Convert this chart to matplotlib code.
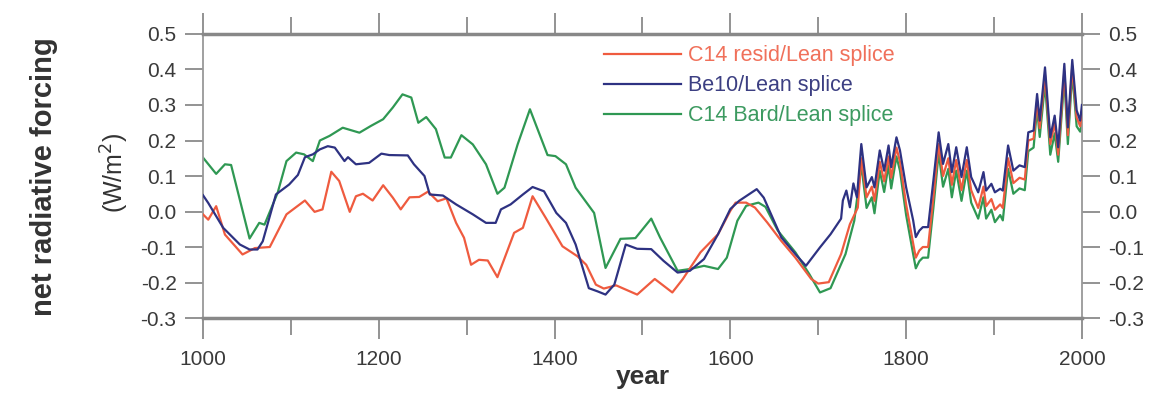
import matplotlib
matplotlib.use("Agg")
import matplotlib.pyplot as plt
from matplotlib.ticker import MultipleLocator, FormatStrFormatter

plt.rcParams['font.family'] = ['Liberation Sans', 'DejaVu Sans']

# ---- data ----
red_years = [1000, 1006, 1015, 1025, 1045, 1059, 1076, 1095, 1116, 1127, 1136, 1146, 1155, 1167,
             1174, 1182, 1193, 1205, 1216, 1225, 1235, 1246, 1256, 1267, 1277, 1288, 1297, 1305,
             1314, 1324, 1335, 1354, 1364, 1375, 1390, 1409, 1426, 1436, 1447, 1456, 1470, 1494,
             1514, 1534, 1546, 1566, 1586, 1600, 1606, 1618, 1628, 1642, 1658, 1674, 1692, 1700,
             1712, 1726, 1736, 1745,
             1749, 1755, 1761, 1764, 1770, 1775, 1780, 1783, 1789, 1793, 1800, 1808, 1811, 1815,
             1819, 1825, 1831, 1837, 1842, 1848, 1852, 1857, 1863, 1869, 1874, 1882, 1888, 1891,
             1897, 1901, 1907, 1910, 1916, 1922, 1929, 1935, 1939, 1945, 1949, 1952, 1958, 1964,
             1969, 1973, 1980, 1984, 1989, 1994, 1998, 2000]
red_vals = [-0.008, -0.023, 0.015, -0.065, -0.121, -0.103, -0.1, -0.008, 0.031, -0.001, 0.006, 0.112,
            0.086, -0.001, 0.043, 0.05, 0.031, 0.074, 0.039, 0.006, 0.04, 0.041, 0.056, 0.029, 0.037,
            -0.032, -0.074, -0.15, -0.136, -0.138, -0.185, -0.06, -0.046, 0.043, -0.018, -0.098,
            -0.126, -0.15, -0.206, -0.217, -0.208, -0.234, -0.19, -0.228, -0.19, -0.115, -0.064,
            0.002, 0.025, 0.025, 0.011, -0.031, -0.083, -0.13, -0.19, -0.203, -0.199, -0.12, -0.036,
            0.011,
            0.15, 0.04, 0.07, 0.03, 0.14, 0.085, 0.155, 0.095, 0.18, 0.14, 0.02, -0.09, -0.13, -0.11,
            -0.1, -0.1, 0.04, 0.19, 0.1, 0.15, 0.075, 0.145, 0.06, 0.145, 0.06, 0.01, 0.07, 0.015,
            0.035, 0.005, 0.02, 0.01, 0.15, 0.08, 0.095, 0.09, 0.2, 0.205, 0.31, 0.235, 0.385, 0.19,
            0.25, 0.16, 0.395, 0.215, 0.41, 0.265, 0.24, 0.28]

blue_years = [1000, 1006, 1023, 1042, 1053, 1062, 1068, 1083, 1098, 1108, 1116, 1125, 1133, 1142,
              1150, 1161, 1165, 1174, 1189, 1203, 1212, 1233, 1240, 1252, 1258, 1273, 1288, 1307,
              1322, 1333, 1339, 1350, 1364, 1375, 1388, 1402, 1413, 1424, 1439, 1449, 1458, 1468,
              1481, 1494, 1510, 1524, 1540, 1554, 1570, 1586, 1600, 1610, 1630, 1638, 1658, 1674,
              1686, 1702, 1714, 1726,
              1728, 1732, 1736, 1740, 1744, 1749, 1755, 1761, 1764, 1770, 1775, 1780, 1783, 1789,
              1793, 1800, 1808, 1811, 1815, 1819, 1825, 1831, 1837, 1842, 1848, 1852, 1857, 1863,
              1869, 1874, 1882, 1888, 1891, 1897, 1901, 1907, 1910, 1916, 1922, 1929, 1935, 1939,
              1945, 1949, 1952, 1958, 1964, 1969, 1973, 1980, 1984, 1989, 1994, 1998, 2000]
blue_vals = [0.046, 0.024, -0.046, -0.093, -0.107, -0.107, -0.084, 0.048, 0.076, 0.103, 0.153, 0.161,
             0.175, 0.184, 0.18, 0.142, 0.153, 0.133, 0.137, 0.163, 0.159, 0.158, 0.133, 0.1, 0.048,
             0.045, 0.02, -0.008, -0.032, -0.032, 0.006, 0.02, 0.048, 0.069, 0.057, -0.004, -0.032,
             -0.093, -0.216, -0.225, -0.234, -0.206, -0.093, -0.105, -0.106, -0.139, -0.172, -0.167,
             -0.134, -0.064, 0.007, 0.03, 0.063, 0.039, -0.073, -0.12, -0.153, -0.101, -0.064, -0.02,
             0.031, 0.059, 0.012, 0.079, 0.04, 0.19, 0.068, 0.097, 0.068, 0.172, 0.115, 0.186, 0.125,
             0.209, 0.172, 0.068, -0.025, -0.072, -0.054, -0.044, -0.044, 0.087, 0.223, 0.134, 0.19,
             0.111, 0.181, 0.097, 0.181, 0.097, 0.054, 0.111, 0.059, 0.078, 0.054, 0.064, 0.059,
             0.186, 0.115, 0.13, 0.125, 0.223, 0.228, 0.331, 0.256, 0.406, 0.209, 0.27, 0.181, 0.416,
             0.237, 0.427, 0.285, 0.256, 0.3]

green_years = [1000, 1015, 1025, 1032, 1053, 1064, 1070, 1085, 1095, 1106, 1115, 1125, 1133, 1144,
               1159, 1178, 1191, 1205, 1216, 1227, 1237, 1245, 1254, 1265, 1275, 1282, 1294, 1307,
               1322, 1335, 1343, 1358, 1372, 1392, 1401, 1413, 1424, 1445, 1458, 1475, 1492, 1510,
               1520, 1540, 1554, 1570, 1586, 1596, 1608, 1618, 1632, 1640, 1654, 1674, 1690, 1702,
               1714, 1731, 1741,
               1749, 1755, 1761, 1764, 1770, 1775, 1780, 1783, 1789, 1793, 1800, 1808, 1811, 1815,
               1819, 1825, 1831, 1837, 1842, 1848, 1852, 1857, 1863, 1869, 1874, 1882, 1888, 1891,
               1897, 1901, 1907, 1910, 1916, 1922, 1929, 1935, 1939, 1945, 1949, 1952, 1958, 1964,
               1969, 1973, 1980, 1984, 1989, 1994, 1998, 2000]
green_vals = [0.152, 0.106, 0.133, 0.131, -0.076, -0.032, -0.037, 0.053, 0.142, 0.166, 0.161, 0.142,
              0.2, 0.213, 0.236, 0.222, 0.241, 0.26, 0.293, 0.33, 0.321, 0.25, 0.266, 0.232, 0.152,
              0.152, 0.215, 0.189, 0.133, 0.05, 0.067, 0.189, 0.288, 0.159, 0.156, 0.133, 0.067,
              -0.004, -0.159, -0.077, -0.075, -0.02, -0.073, -0.167, -0.162, -0.153, -0.162, -0.13,
              -0.026, 0.016, 0.025, 0.013, -0.054, -0.115, -0.177, -0.228, -0.216, -0.12, -0.026,
              0.13, 0.01, 0.04, -0.005, 0.115, 0.055, 0.13, 0.065, 0.155, 0.115, -0.01, -0.12, -0.16,
              -0.14, -0.13, -0.13, 0.01, 0.165, 0.07, 0.12, 0.04, 0.115, 0.03, 0.115, 0.025, -0.02,
              0.04, -0.02, 0.005, -0.03, -0.01, -0.025, 0.12, 0.05, 0.065, 0.06, 0.17, 0.18, 0.29,
              0.21, 0.36, 0.16, 0.22, 0.14, 0.375, 0.19, 0.39, 0.24, 0.225, 0.25]

labels = ["C14 resid/Lean splice", "Be10/Lean splice", "C14 Bard/Lean splice"]
colors = ["#ef5b3f", "#2e3282", "#2f9853"]
text_colors = ["#f0705a", "#3c3f82", "#3c9a60"]

# ---- figure ----
fig = plt.figure(figsize=(11.5, 3.93), dpi=100)
ax = fig.add_axes([0.1765, 0.1908, 0.7643, 0.7227])

ax.plot(red_years, red_vals, color=colors[0], lw=1.6, label=labels[0], zorder=3)
ax.plot(green_years, green_vals, color=colors[2], lw=1.6, label=labels[2], zorder=2)
ax.plot(blue_years, blue_vals, color=colors[1], lw=1.6, label=labels[1], zorder=4)

ax.set_xlim(1000, 2000)
ax.set_ylim(-0.3, 0.5)

ax.xaxis.set_major_locator(MultipleLocator(200))
ax.xaxis.set_minor_locator(MultipleLocator(100))
ax.yaxis.set_major_locator(MultipleLocator(0.1))
ax.yaxis.set_major_formatter(FormatStrFormatter('%.1f'))

gray = '#8a8a8a'
ax.tick_params(axis='x', which='major', direction='out', length=15, width=1.3, color=gray,
               top=True, labelsize=15, labelcolor='#3a3a3a', pad=8)
ax.tick_params(axis='x', which='minor', direction='out', length=12, width=1.3, color=gray, top=True)
ax.tick_params(axis='y', which='major', direction='out', length=13, width=1.3, color=gray,
               right=True, labelright=True, labelsize=15, labelcolor='#3a3a3a', pad=6)

for side in ['top', 'bottom']:
    ax.spines[side].set_linewidth(2.5)
    ax.spines[side].set_color('#888888')
for side in ['left', 'right']:
    ax.spines[side].set_linewidth(1.3)
    ax.spines[side].set_color('#999999')

ax.set_xlabel("year", fontsize=19, fontweight='bold', color='#333333', labelpad=-3)

fig.text(0.038, 0.55, "net radiative forcing", rotation=90, fontsize=21, fontweight='bold',
         color='#333333', ha='center', va='center')
fig.text(0.100, 0.56, "(W/m$^2$)", rotation=90, fontsize=18, color='#333333',
         ha='center', va='center')

# legend: order red, blue, green
h, l = ax.get_legend_handles_labels()
order = [0, 2, 1]
leg = ax.legend([h[i] for i in order], [l[i] for i in order], loc='upper left',
                bbox_to_anchor=(0.456, 0.96), frameon=False, fontsize=15.5,
                handlelength=3.6, handletextpad=0.3, labelspacing=0.42,
                borderpad=0, borderaxespad=0)
for txt, c in zip(leg.get_texts(), text_colors):
    txt.set_color(c)

fig.savefig("out.png", dpi=100)
